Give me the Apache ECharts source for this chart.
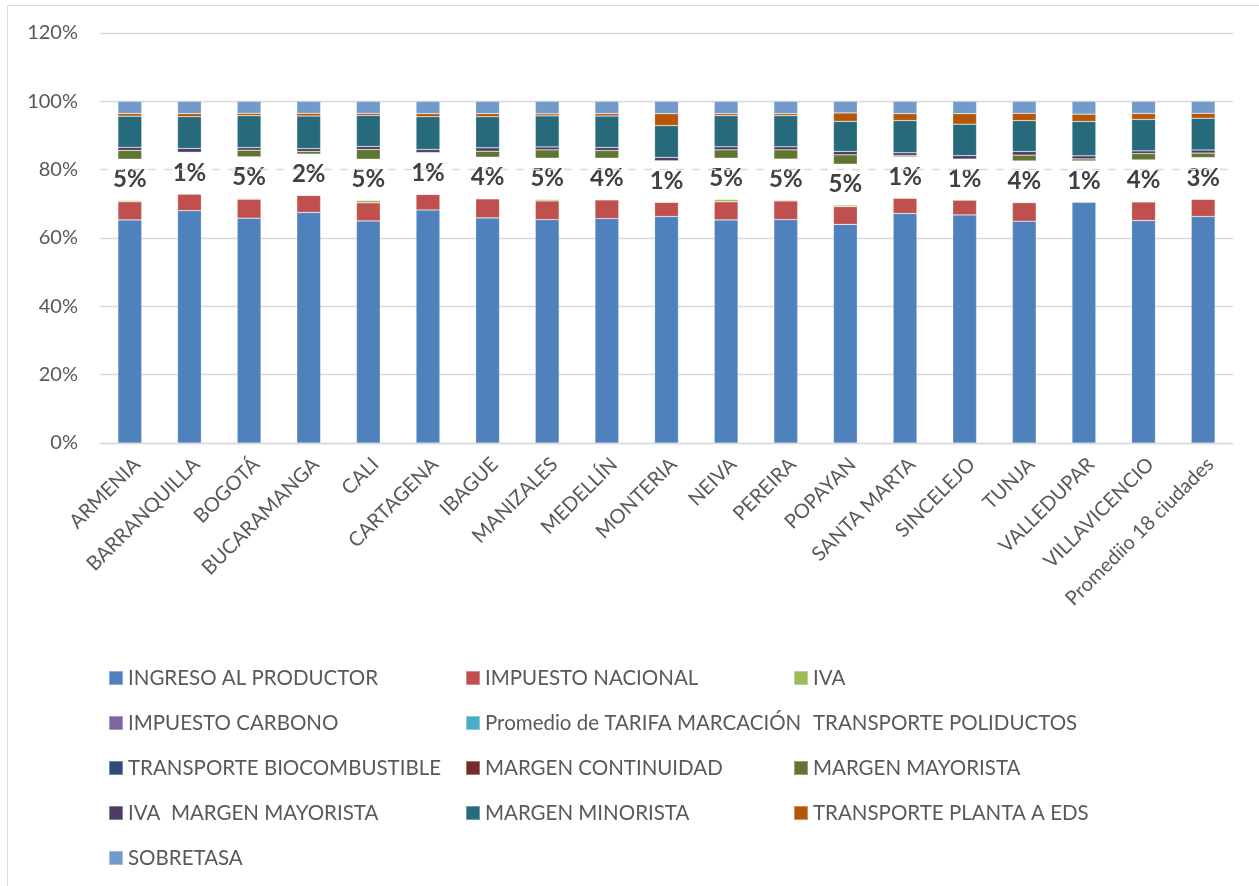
<!DOCTYPE html>
<html>
<head>
<meta charset="utf-8">
<title>Estructura de precio por ciudad</title>
<script src="https://cdn.jsdelivr.net/npm/echarts@6/dist/echarts.min.js"></script>
<style>
  html, body { margin: 0; padding: 0; background: #ffffff; }
  #chart { width: 1259px; height: 886px; }
</style>
</head>
<body>
<div id="chart"></div>
<script>
// Ciudades (eje de categorías)
const ciudades = ['ARMENIA', 'BARRANQUILLA', 'BOGOTÁ', 'BUCARAMANGA', 'CALI', 'CARTAGENA', 'IBAGUE',
  'MANIZALES', 'MEDELLÍN', 'MONTERIA', 'NEIVA', 'PEREIRA', 'POPAYAN', 'SANTA MARTA', 'SINCELEJO',
  'TUNJA', 'VALLEDUPAR', 'VILLAVICENCIO', 'Promediio 18 ciudades'];

// Participación de cada componente en el precio (%)
const ingresoProductor = [65.3, 68.0, 65.8, 67.5, 65.0, 68.2, 65.9, 65.4, 65.7, 66.3, 65.3, 65.4, 64.0, 67.2, 66.75, 64.9, 70.55, 65.1, 66.3];
const impuestoNacional = [5.3, 4.9, 5.55, 5.0, 5.3, 4.6, 5.55, 5.45, 5.45, 4.2, 5.3, 5.45, 5.2, 4.5, 4.4, 5.45, 0, 5.45, 5.05];
const iva = [0.45, 0, 0.3, 0, 0.75, 0, 0.2, 0.5, 0.2, 0, 0.75, 0.3, 0.5, 0, 0, 0.2, 0, 0.2, 0.1];
const impuestoCarbono = [0, 0, 0, 0, 0, 0, 0, 0, 0, 0, 0, 0, 0, 0, 0, 0, 0, 0, 0];
const tarifaMarcacion = [0, 0, 0, 0, 0, 0, 0, 0, 0, 0, 0, 0, 0, 0, 0, 0, 0, 0, 0];
const transportePoliductos = [12.0, 12.0, 12.1, 12.05, 12.0, 12.1, 12.0, 12.0, 12.0, 12.1, 12.0, 11.95, 11.9, 12.05, 11.95, 12.0, 12.0, 12.1, 12.1];
const transporteBiocombustible = [0, 0, 0, 0, 0, 0, 0, 0, 0, 0, 0, 0, 0, 0, 0, 0, 0, 0, 0];
const margenContinuidad = [0, 0, 0, 0, 0, 0, 0, 0, 0, 0, 0, 0, 0, 0, 0, 0, 0, 0, 0];
const margenMayorista = [2.6, 0.2, 1.95, 0.8, 2.85, 0.1, 1.75, 2.45, 2.25, 0, 2.45, 2.7, 2.75, 0.4, 0, 1.7, 0.6, 1.85, 1.3];
const ivaMargenMayorista = [0.9, 1.1, 0.8, 0.85, 0.9, 0.9, 1.0, 0.85, 0.9, 1.0, 0.9, 0.9, 1.0, 0.8, 1.0, 1.1, 0.9, 0.8, 0.9];
const margenMinorista = [9.1, 9.3, 9.3, 9.5, 9.1, 9.6, 9.1, 9.1, 9.2, 9.3, 9.1, 9.1, 8.8, 9.4, 9.2, 9.0, 10.05, 9.2, 9.3];
const transportePlantaEds = [0.8, 0.9, 0.7, 0.8, 0.6, 0.9, 0.9, 0.6, 0.7, 3.5, 0.6, 0.6, 2.45, 2.05, 3.1, 2.15, 2.15, 1.75, 1.45];
const sobretasa = [3.55, 3.6, 3.5, 3.5, 3.5, 3.6, 3.6, 3.65, 3.6, 3.6, 3.6, 3.6, 3.4, 3.6, 3.6, 3.5, 3.75, 3.55, 3.5];

// Rótulos mostrados sobre el tramo de transporte por poliductos
const rotulosPoliductos = ['5%', '1%', '5%', '2%', '5%', '1%', '4%', '5%', '4%', '1%', '5%', '5%', '5%', '1%', '1%', '4%', '1%', '4%', '3%'];

// Marcas del eje vertical
const ejeMin = 0, ejeMax = 120, ejePaso = 20;

const FONT = 'Lato, "Open Sans", sans-serif';
const GRIS_TEXTO = '#595959';
const GRIS_REJILLA = '#d9d9d9';

const componentes = [
  { name: 'INGRESO AL PRODUCTOR', data: ingresoProductor, color: '#4F81BD' },
  { name: 'IMPUESTO NACIONAL', data: impuestoNacional, color: '#C0504D' },
  { name: 'IVA', data: iva, color: '#9BBB59' },
  { name: 'IMPUESTO CARBONO', data: impuestoCarbono, color: '#8064A2' },
  { name: 'Promedio de TARIFA MARCACIÓN', data: tarifaMarcacion, color: '#4BACC6' },
  { name: 'TRANSPORTE POLIDUCTOS', data: transportePoliductos, color: 'rgba(255,255,255,0)', rotulos: rotulosPoliductos },
  { name: 'TRANSPORTE BIOCOMBUSTIBLE', data: transporteBiocombustible, color: '#2C4D75' },
  { name: 'MARGEN CONTINUIDAD', data: margenContinuidad, color: '#772C2A' },
  { name: 'MARGEN MAYORISTA', data: margenMayorista, color: '#5F7530' },
  { name: 'IVA  MARGEN MAYORISTA', data: ivaMargenMayorista, color: '#4D3B62' },
  { name: 'MARGEN MINORISTA', data: margenMinorista, color: '#276A7C' },
  { name: 'TRANSPORTE PLANTA A EDS', data: transportePlantaEds, color: '#B65708' },
  { name: 'SOBRETASA', data: sobretasa, color: '#729ACA' }
];

const series = componentes.map(function (c) {
  const transparente = !!c.rotulos;
  const s = {
    name: c.name,
    type: 'bar',
    stack: 'precio',
    barWidth: '40%',
    data: c.data,
    itemStyle: {
      color: c.color,
      borderColor: transparente ? 'rgba(0,0,0,0)' : 'rgba(255,255,255,0.35)',
      borderWidth: transparente ? 0 : 0.6
    },
    emphasis: { disabled: true },
    label: { show: false }
  };
  if (transparente) {
    s.label = {
      show: true,
      position: 'inside',
      formatter: function (p) { return c.rotulos[p.dataIndex]; },
      fontFamily: FONT,
      fontWeight: 'bold',
      fontSize: 24,
      color: '#404040'
    };
    // línea punteada en 80 %
    s.markLine = {
      silent: true,
      symbol: 'none',
      label: { show: false },
      lineStyle: { color: GRIS_REJILLA, width: 1.3, type: [8, 8] },
      data: [{ yAxis: 80 }]
    };
    s.z = 3;
  }
  return s;
});

// Tres columnas de leyenda, en orden de fila
const columnas = [[], [], []];
componentes.forEach(function (c, i) { columnas[i % 3].push(c.name); });
const posLeyenda = [103, 460, 788];
const legends = columnas.map(function (col, k) {
  return {
    data: col,
    orient: 'vertical',
    left: posLeyenda[k],
    top: 661,
    icon: 'rect',
    itemWidth: 14,
    itemHeight: 14,
    itemGap: 21,
    selectedMode: false,
    textStyle: { fontFamily: FONT, fontSize: 20.5, color: GRIS_TEXTO, lineHeight: 24 }
  };
});

// Las líneas de rejilla: la de 80 % se dibuja punteada aparte
const coloresRejilla = [];
for (let v = ejeMin; v <= ejeMax; v += ejePaso) {
  coloresRejilla.push(v === 80 ? 'rgba(0,0,0,0)' : GRIS_REJILLA);
}

const option = {
  backgroundColor: '#ffffff',
  animation: false,
  graphic: [{
    type: 'rect',
    shape: { x: 7.5, y: 5.5, width: 1300, height: 1000 },
    style: { fill: 'none', stroke: GRIS_REJILLA, lineWidth: 1 },
    silent: true,
    z: -10
  }],
  legend: legends,
  grid: { left: 100, right: 26, top: 33, bottom: 443, containLabel: false },
  xAxis: {
    type: 'category',
    data: ciudades,
    axisLine: { show: true, lineStyle: { color: GRIS_REJILLA, width: 1.3 } },
    axisTick: { show: false },
    axisLabel: {
      rotate: 45,
      interval: 0,
      margin: 11,
      verticalAlign: 'top',
      fontFamily: FONT,
      fontSize: 20,
      color: GRIS_TEXTO
    }
  },
  yAxis: {
    type: 'value',
    min: ejeMin,
    max: ejeMax,
    interval: ejePaso,
    axisLine: { show: false },
    axisTick: { show: false },
    axisLabel: {
      formatter: '{value}%',
      margin: 22,
      fontFamily: FONT,
      fontSize: 20,
      color: GRIS_TEXTO
    },
    splitLine: { lineStyle: { color: coloresRejilla, width: 1.3 } }
  },
  series: series
};

const chart = echarts.init(document.getElementById('chart'), null, { renderer: 'canvas' });
chart.setOption(option);
</script>
</body>
</html>
